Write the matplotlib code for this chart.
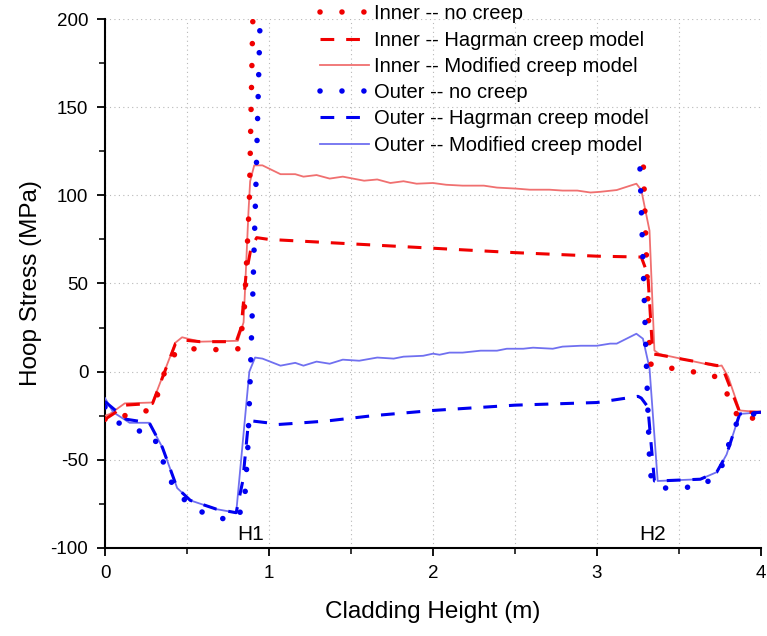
import numpy as np
import matplotlib
matplotlib.use("Agg")
import matplotlib.pyplot as plt
from matplotlib.ticker import MultipleLocator

plt.rcParams['font.family'] = ['Liberation Sans', 'DejaVu Sans']
plt.rcParams['axes.unicode_minus'] = False

nan = np.nan

# Inner -- no creep
in_nc_x = [0.0, 0.05, 0.16, 0.28, 0.33, 0.37, 0.44, 0.55, 0.68, 0.82, 0.85, 0.88, 0.90, 0.915, nan,
           3.283, 3.323, 3.34, 3.45, 3.58, 3.71, 3.78, 3.82, 3.89, 4.0]
in_nc_y = [-27, -28.5, -23, -22, -11, 2, 12, 13, 12.5, 13, 36, 96, 195, 240, nan,
           116, 5, 3, 2, 0, -2, -9, -20, -29, -24]

# Inner -- Hagrman creep model
in_hg_x = [0.0, 0.05, 0.12, 0.29, 0.43, 0.47, 0.58, 0.80, 0.83, 0.86, 0.89, 0.925, 1.0, 1.5, 2.0, 2.5,
           3.0, 3.27, 3.31, 3.34, 3.38, 3.73, 3.76, 3.87, 4.0]
in_hg_y = [-27, -24, -19, -18, 16, 18, 17, 17, 25, 55, 70, 76, 75, 72.5, 70, 67.5,
           65.5, 65, 55, 10, 9.5, 3.5, 3.5, -23, -23]

# Inner -- Modified creep model
in_md_x = [0.0, 0.03, 0.12, 0.29, 0.43, 0.47, 0.58, 0.81, 0.845, 0.875, 0.885, 0.91, 0.96, 1.07, 1.16,
           1.21, 1.29, 1.37, 1.45, 1.58, 1.66, 1.74, 1.82, 1.90, 2.0, 2.08, 2.18, 2.31, 2.39, 2.51,
           2.59, 2.71, 2.79, 2.88, 2.96, 3.02, 3.12, 3.24, 3.27, 3.32, 3.35, 3.38, 3.73, 3.76, 3.80,
           3.87, 4.0]
in_md_y = [-25, -24, -18, -17.5, 16.5, 19.5, 17, 17.5, 28, 91, 108, 117, 117, 112, 112,
           110.6, 111.5, 109.5, 110.6, 108.3, 109, 107, 108, 106.6, 107, 106, 105.5, 105.5, 104.4, 103.8,
           103.2, 103.2, 102.7, 102.7, 101.6, 102, 103, 106.6, 103, 80, 12, 10, 3, 3.5, -3,
           -22, -23]

# Outer -- no creep
out_nc_x = [0.0, 0.06, 0.17, 0.29, 0.34, 0.38, 0.44, 0.55, 0.68, 0.80, 0.85, 0.87, 0.885, 0.90, 0.92,
            0.945, 0.955, nan, 3.262, 3.323, 3.37, 3.49, 3.63, 3.73, 3.78, 3.82, 3.87, 4.0]
out_nc_y = [-20, -28, -33, -35, -47, -58, -69, -78, -83, -84, -75, -45, -5, 40, 105,
            197, 240, nan, 115, -58, -66, -66, -65, -59, -50, -35, -26, -23]

# Outer -- Hagrman creep model
out_hg_x = [0.0, 0.09, 0.13, 0.27, 0.35, 0.44, 0.52, 0.68, 0.80, 0.84, 0.87, 0.90, 0.99, 1.05, 1.13,
            1.35, 1.63, 2.0, 2.5, 3.0, 3.25, 3.27, 3.31, 3.35, 3.37, 3.63, 3.73, 3.79, 3.87, 4.0]
out_hg_y = [-17, -24, -27, -29, -43, -66, -73, -78, -80, -62, -33, -28, -29, -30, -29.5,
            -28, -25, -22, -19, -17.5, -14, -15, -20, -62, -62, -61, -57, -47, -24, -23]

# Outer -- Modified creep model
out_md_x = [0.0, 0.05, 0.15, 0.27, 0.35, 0.44, 0.52, 0.68, 0.80, 0.88, 0.915, 0.96, 1.07, 1.16, 1.21,
            1.29, 1.37, 1.45, 1.55, 1.66, 1.76, 1.82, 1.94, 2.0, 2.04, 2.10, 2.18, 2.29, 2.39, 2.45,
            2.55, 2.61, 2.73, 2.79, 2.90, 3.0, 3.08, 3.12, 3.24, 3.28, 3.32, 3.37, 3.63, 3.73, 3.79,
            3.87, 4.0]
out_md_y = [-15, -23, -29, -29, -43, -66, -73, -78, -80, 0, 8, 7.4, 3.4, 5, 3.4,
            5.7, 4.5, 6.8, 6.2, 8, 7.4, 8.5, 9, 10.2, 9.6, 10.8, 10.8, 11.9, 11.9, 13,
            13, 13.6, 13, 14.2, 14.7, 14.7, 15.9, 15.9, 21.5, 18.7, 2, -62, -61, -57, -47,
            -24, -23]

labels = ["Inner -- no creep", "Inner -- Hagrman creep model", "Inner -- Modified creep model",
          "Outer -- no creep", "Outer -- Hagrman creep model", "Outer -- Modified creep model"]
annot_text = ["H1", "H2"]
annot_x = [0.887, 3.34]
annot_y = [-92.5, -92.5]

red = '#f00000'
blue = '#0000f0'
lred = '#f07070'
lblue = '#7070f0'

fig = plt.figure(figsize=(7.67, 6.36), dpi=100)
ax = fig.add_axes([0.1369, 0.1384, 0.9922 - 0.1369, 0.9701 - 0.1384])

dot_style = (0, (0.01, 3.94))
dash_style = (0, (4.5, 3.9))

l1, = ax.plot(in_nc_x, in_nc_y, color=red, lw=4.0, linestyle=dot_style, dash_capstyle='round', zorder=5)
l2, = ax.plot(in_hg_x, in_hg_y, color=red, lw=2.2, linestyle=dash_style, zorder=4)
l3, = ax.plot(in_md_x, in_md_y, color=lred, lw=1.3, zorder=3)
l4, = ax.plot(out_nc_x, out_nc_y, color=blue, lw=4.0, linestyle=dot_style, dash_capstyle='round', zorder=5)
l5, = ax.plot(out_hg_x, out_hg_y, color=blue, lw=2.2, linestyle=dash_style, zorder=4)
l6, = ax.plot(out_md_x, out_md_y, color=lblue, lw=1.3, zorder=3)

for t, x, y in zip(annot_text, annot_x, annot_y):
    ax.text(x, y, t, fontsize=15, ha='center', va='center', zorder=6)

ax.set_xlim(0, 4)
ax.set_ylim(-100, 200)
ax.xaxis.set_major_locator(MultipleLocator(1))
ax.xaxis.set_minor_locator(MultipleLocator(0.5))
ax.yaxis.set_major_locator(MultipleLocator(50))
ax.yaxis.set_minor_locator(MultipleLocator(25))

ax.grid(True, which='major', axis='y', color='#b8b8b8', lw=0.8, linestyle=(0, (1, 3)))
ax.grid(True, which='both', axis='x', color='#b8b8b8', lw=0.8, linestyle=(0, (1, 3)))
ax.set_axisbelow(True)

for s in ['top', 'right']:
    ax.spines[s].set_visible(False)
for s in ['left', 'bottom']:
    ax.spines[s].set_linewidth(1.5)

ax.tick_params(which='major', direction='out', length=6, width=1.3, labelsize=13.5, pad=6)
ax.tick_params(which='minor', direction='out', length=4, width=1.1)

ax.set_xlabel("Cladding Height (m)", fontsize=17.5, labelpad=14)
ax.set_ylabel("Hoop Stress (MPa)", fontsize=17.5, labelpad=6)

fig.legend([l1, l2, l3, l4, l5, l6], labels, loc='upper left', bbox_to_anchor=(0.402, 1.012),
           frameon=False, fontsize=14.5, handlelength=2.4, handletextpad=0.28, labelspacing=0.36,
           borderpad=0.1)

fig.savefig("out.png", dpi=100)
